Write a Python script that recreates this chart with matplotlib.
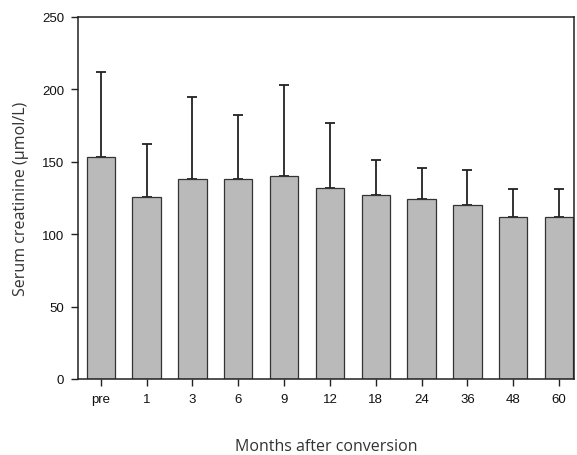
import matplotlib
matplotlib.use("Agg")
import matplotlib.pyplot as plt
import numpy as np

# serum creatinine before and after conversion (mean + SD)
months = ["pre", "1", "3", "6", "9", "12", "18", "24", "36", "48", "60"]
creat_mean = [153, 126, 138, 138, 140, 132, 127, 124, 120, 112, 112]
creat_sd = [59, 36, 57, 44, 63, 45, 24, 22, 24, 19, 19]

fig = plt.figure(figsize=(5.77, 4.56), dpi=100)
ax = fig.add_axes([0.135, 0.1667, 0.86, 0.794])

x = np.arange(len(months))
ax.bar(x, creat_mean, width=0.62, color="#bababa", edgecolor="#333333",
       linewidth=0.9, zorder=2)

# upper error bars only
ax.errorbar(x, creat_mean, yerr=[np.zeros(len(x)), creat_sd], fmt="none",
            ecolor="#222222", elinewidth=1.3, capsize=3.8, capthick=1.3,
            zorder=1)

ax.set_xlim(-0.5, 10.33)
ax.set_ylim(0, 250)
ax.set_yticks([0, 50, 100, 150, 200, 250])
ax.set_xticks(x)
ax.set_xticklabels(months)

for lab in ax.get_xticklabels() + ax.get_yticklabels():
    lab.set_fontfamily("Liberation Sans")
    lab.set_fontsize(9.5)
    lab.set_color("#111111")

ax.tick_params(axis="both", direction="out", length=5, width=1,
               color="#222222", pad=5)

for s in ax.spines.values():
    s.set_linewidth(1.1)
    s.set_color("#222222")

ax.set_ylabel("Serum creatinine (µmol/L)", family="Open Sans", fontsize=11.5,
              color="#333333", labelpad=9)
ax.set_xlabel("Months after conversion", family="Open Sans", fontsize=11.5,
              color="#333333", labelpad=24)

fig.savefig("out.png", dpi=100)
